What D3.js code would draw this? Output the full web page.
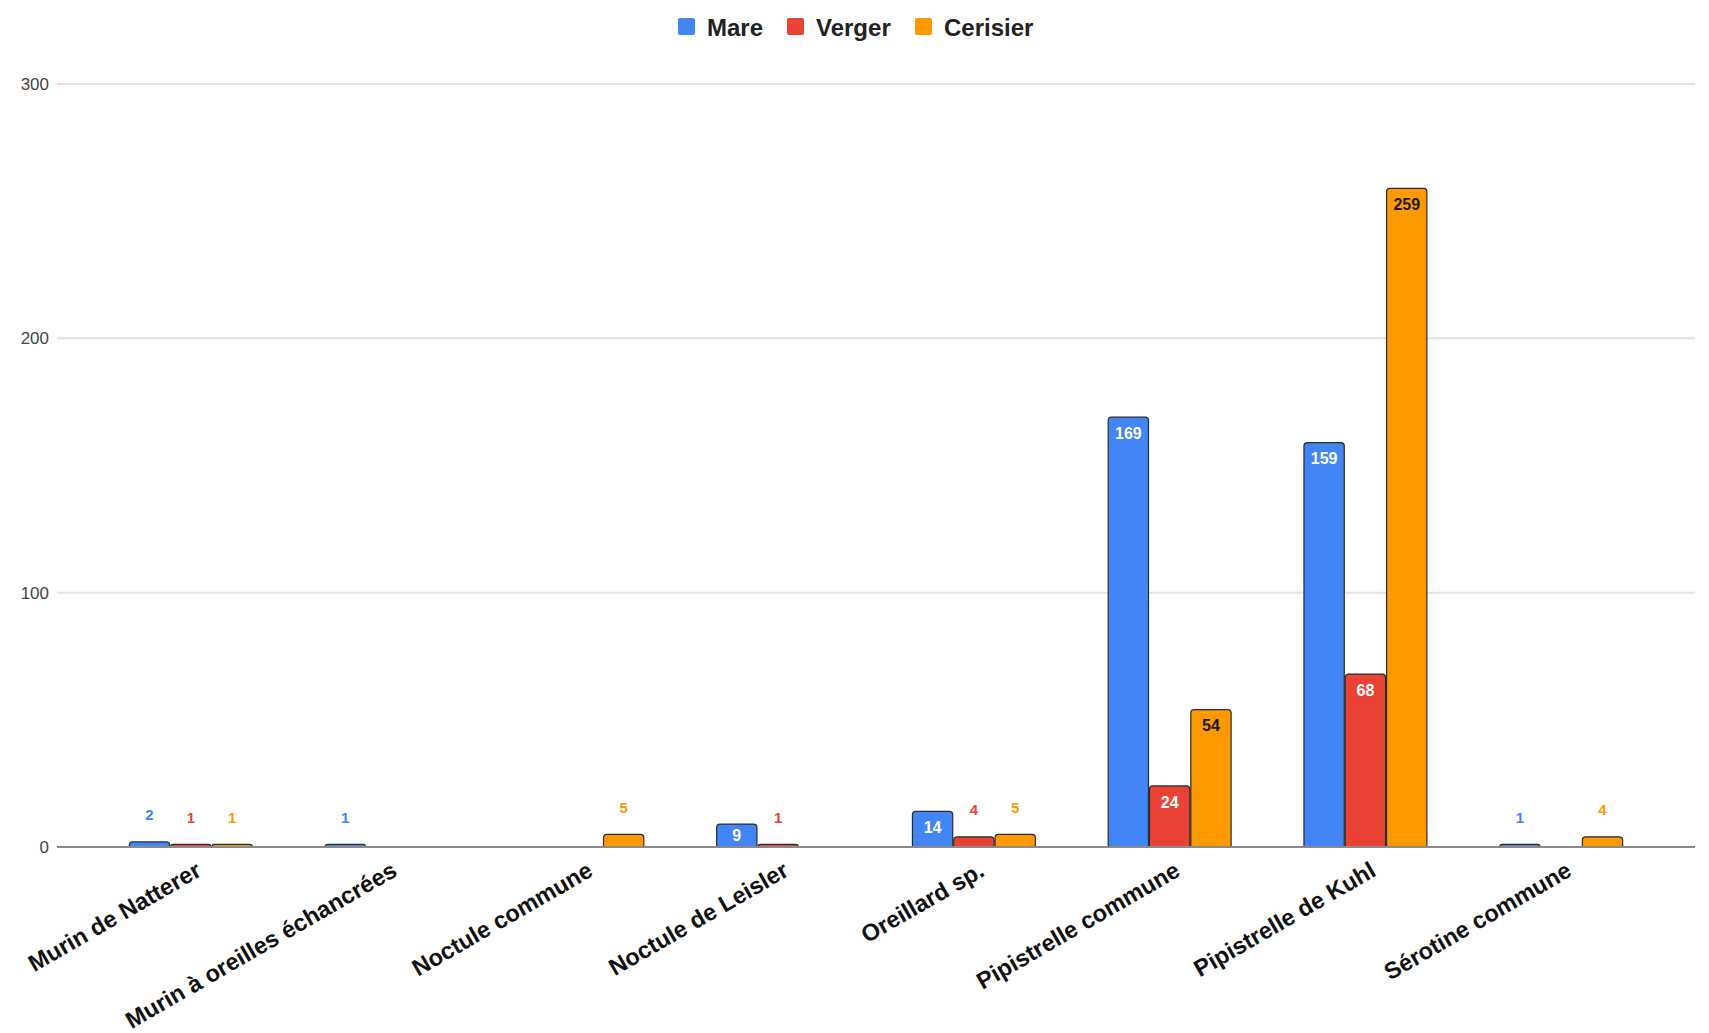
<!DOCTYPE html>
<html>
<head>
<meta charset="utf-8">
<script src="https://cdn.jsdelivr.net/npm/d3@7/dist/d3.min.js"></script>
<style>
  html, body { margin: 0; padding: 0; background: #fff; }
  svg { display: block; font-family: "Liberation Sans", Arial, sans-serif; }
</style>
</head>
<body>
<svg id="chart" width="1709" height="1033"></svg>
<script>
// Bat recordings per species at three sites
const categories = [
  "Murin de Natterer",
  "Murin à oreilles échancrées",
  "Noctule commune",
  "Noctule de Leisler",
  "Oreillard sp.",
  "Pipistrelle commune",
  "Pipistrelle de Kuhl",
  "Sérotine commune"
];
const seriesNames = ["Mare", "Verger", "Cerisier"];
const mare     = [2, 1, 0, 9, 14, 169, 159, 1];
const verger   = [1, 0, 0, 1, 4, 24, 68, 0];
const cerisier = [1, 0, 5, 0, 5, 54, 259, 4];
const yTicks = [0, 100, 200, 300];

const seriesValues = [mare, verger, cerisier];
const colors = ["#4285F4", "#EA4335", "#FF9900"];
const insideText = ["#ffffff", "#ffffff", "#1a1a1a"];

const svg = d3.select("#chart");
const plotLeft = 57, plotRight = 1695, plotTop = 84, plotBottom = 847;

const y = d3.scaleLinear().domain([0, 300]).range([plotBottom, plotTop]);
const x0 = d3.scaleBand().domain(categories).range([plotLeft, plotRight]).paddingInner(0.367).paddingOuter(0.367);
const x1 = d3.scaleBand().domain(seriesNames).range([0, x0.bandwidth()]).padding(0);

// Gridlines and y tick labels
svg.append("g").selectAll("line").data(yTicks.filter(t => t > 0)).join("line")
  .attr("x1", plotLeft).attr("x2", plotRight)
  .attr("y1", d => y(d)).attr("y2", d => y(d))
  .attr("stroke", "#e3e3e3").attr("stroke-width", 2);

svg.append("g").selectAll("text").data(yTicks).join("text")
  .attr("x", 49).attr("y", d => y(d)).attr("dy", "0.36em")
  .attr("text-anchor", "end")
  .attr("font-size", 17).attr("fill", "#444")
  .text(d => d);

// Rounded-top bar path
function barPath(x, yTop, w, yBase) {
  const h = yBase - yTop;
  const r = Math.min(3.5, h, w / 2);
  return `M${x},${yBase} L${x},${yTop + r} Q${x},${yTop} ${x + r},${yTop} ` +
         `L${x + w - r},${yTop} Q${x + w},${yTop} ${x + w},${yTop + r} L${x + w},${yBase} Z`;
}

const barData = [];
categories.forEach((c, ci) => {
  seriesNames.forEach((s, si) => {
    const v = seriesValues[si][ci];
    if (v > 0) barData.push({ c, s, si, v });
  });
});

svg.append("g").selectAll("path").data(barData).join("path")
  .attr("d", d => barPath(x0(d.c) + x1(d.s) + 0.5, y(d.v), x1.bandwidth() - 1, plotBottom))
  .attr("fill", d => colors[d.si])
  .attr("stroke", "#2b2b2b").attr("stroke-width", 1.2);

// Zero baseline
svg.append("line")
  .attr("x1", plotLeft).attr("x2", plotRight)
  .attr("y1", plotBottom).attr("y2", plotBottom)
  .attr("stroke", "#8a8a8a").attr("stroke-width", 2);

// Value labels: inside tall bars, above short ones
const isInside = d => plotBottom - y(d.v) >= 20;
svg.append("g").selectAll("text").data(barData).join("text")
  .attr("x", d => x0(d.c) + x1(d.s) + x1.bandwidth() / 2)
  .attr("y", d => isInside(d)
    ? Math.min(y(d.v) + 16, (y(d.v) + plotBottom) / 2)
    : y(d.v) - 27)
  .attr("dy", "0.36em")
  .attr("text-anchor", "middle")
  .attr("font-size", d => (isInside(d) ? 16 : 15))
  .attr("font-weight", d => (isInside(d) ? "bold" : 600))
  .attr("fill", d => (isInside(d) ? insideText[d.si] : colors[d.si]))
  .text(d => d.v);

// Category labels, rotated
svg.append("g").selectAll("text").data(categories).join("text")
  .attr("transform", d => `translate(${x0(d) + x0.bandwidth() / 2 + 12},875) rotate(-30)`)
  .attr("text-anchor", "end")
  .attr("font-size", 23.5).attr("font-weight", "bold").attr("fill", "#111")
  .text(d => d);

// Legend
const legendX = [678, 787, 915];
const legend = svg.append("g");
seriesNames.forEach((s, i) => {
  legend.append("rect")
    .attr("x", legendX[i]).attr("y", 18).attr("width", 17).attr("height", 17)
    .attr("rx", 2).attr("fill", colors[i]);
  legend.append("text")
    .attr("x", legendX[i] + 29).attr("y", 27).attr("dy", "0.36em")
    .attr("font-size", 24).attr("font-weight", "bold").attr("fill", "#222")
    .text(s);
});
</script>
</body>
</html>
